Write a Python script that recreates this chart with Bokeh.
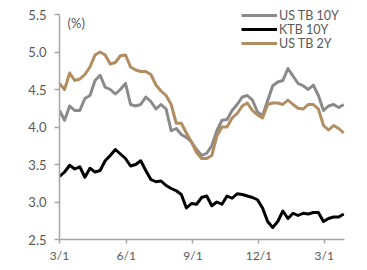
import pandas as pd
from bokeh.plotting import figure
from bokeh.models import FixedTicker, Legend, LegendItem, Label, Range1d, NumeralTickFormatter
from bokeh.embed import file_html
from bokeh.resources import INLINE

start = "2024-03-01"
dates = pd.date_range(start, periods=57, freq="7D")

us10y = [4.22, 4.09, 4.28, 4.22, 4.22, 4.38, 4.42, 4.62, 4.69, 4.53,
         4.50, 4.44, 4.50, 4.58, 4.30, 4.28, 4.30, 4.40, 4.34, 4.24,
         4.30, 4.24, 3.95, 3.98, 3.90, 3.86, 3.80, 3.70, 3.62, 3.65,
         3.75, 3.95, 4.09, 4.10, 4.22, 4.30, 4.40, 4.42, 4.36, 4.20,
         4.15, 4.35, 4.55, 4.60, 4.62, 4.78, 4.68, 4.58, 4.55, 4.50,
         4.56, 4.42, 4.22, 4.28, 4.30, 4.26, 4.30]
ktb10y = [3.34, 3.40, 3.49, 3.44, 3.47, 3.33, 3.45, 3.40, 3.42, 3.55,
          3.62, 3.70, 3.64, 3.58, 3.48, 3.50, 3.55, 3.42, 3.30, 3.27,
          3.28, 3.22, 3.18, 3.15, 3.10, 2.92, 2.98, 2.97, 3.06, 3.08,
          2.95, 3.00, 2.97, 3.08, 3.05, 3.11, 3.10, 3.08, 3.06, 3.03,
          2.92, 2.74, 2.66, 2.74, 2.88, 2.78, 2.85, 2.82, 2.85, 2.84,
          2.86, 2.86, 2.74, 2.78, 2.80, 2.80, 2.84]
us2y = [4.58, 4.50, 4.72, 4.62, 4.64, 4.70, 4.80, 4.96, 5.00, 4.96,
        4.84, 4.86, 4.95, 4.96, 4.80, 4.76, 4.74, 4.74, 4.70, 4.56,
        4.48, 4.42, 4.30, 4.05, 4.05, 3.92, 3.80, 3.66, 3.58, 3.58,
        3.62, 3.88, 4.00, 4.00, 4.12, 4.18, 4.28, 4.32, 4.22, 4.16,
        4.12, 4.30, 4.32, 4.32, 4.30, 4.36, 4.30, 4.25, 4.24, 4.30,
        4.30, 4.24, 4.02, 3.96, 4.02, 3.98, 3.92]

series_names = ["US TB 10Y", "KTB 10Y", "US TB 2Y"]
tick_dates = ["2024-03-01", "2024-06-01", "2024-09-01", "2024-12-01", "2025-03-01"]
tick_labels = ["3/1", "6/1", "9/1", "12/1", "3/1"]
y_ticks = [2.5, 3.0, 3.5, 4.0, 4.5, 5.0, 5.5]

t0 = pd.Timestamp(start)
xdays = [(d - t0).days for d in dates]
tick_days = [(pd.Timestamp(d) - t0).days for d in tick_dates]

p = figure(frame_width=285, frame_height=234, output_backend="svg", toolbar_location=None,
           x_range=Range1d(0, 393), y_range=Range1d(2.5, 5.62),
           min_border_left=59, min_border_right=12, min_border_top=5, min_border_bottom=10)
p.outline_line_color = None
p.xgrid.visible = False
p.ygrid.visible = False

colors = ["#8a8a8a", "#000000", "#b38d62"]
renderers = []
for vals, c in zip([us10y, ktb10y, us2y], colors):
    r = p.line(xdays, vals, line_color=c, line_width=3, line_join="round")
    renderers.append(r)

axis_col = "#a6a6a6"
lab_col = "#595959"
font = "Lato"
for ax in (p.xaxis[0], p.yaxis[0]):
    ax.axis_line_color = axis_col
    ax.axis_line_width = 1.5
    ax.major_tick_line_color = axis_col
    ax.major_tick_line_width = 1.5
    ax.major_tick_in = 0
    ax.minor_tick_line_color = None
    ax.major_label_text_color = lab_col
    ax.major_label_text_font = font

p.xaxis.ticker = FixedTicker(ticks=tick_days)
p.xaxis.major_label_overrides = {d: l for d, l in zip(tick_days, tick_labels)}
p.xaxis.major_tick_out = 4
p.xaxis.major_label_standoff = 4
p.xaxis.major_label_text_font_size = "12px"
p.yaxis.ticker = FixedTicker(ticks=y_ticks)
p.yaxis.formatter = NumeralTickFormatter(format="0.0")
p.yaxis.bounds = (2.5, 5.5)
p.yaxis.major_tick_out = 5
p.yaxis.major_label_standoff = 8
p.yaxis.major_label_text_font_size = "13px"

p.add_layout(Label(x=8, y=217, x_units="screen", y_units="screen", text="(%)",
                   text_font=font, text_font_size="13px", text_color=lab_col,
                   text_baseline="middle"))

legend_bottoms = [216, 202, 188]
for n, r, yb in zip(series_names, renderers, legend_bottoms):
    lg = Legend(items=[LegendItem(label=n, renderers=[r])],
                location=(182, yb), orientation="vertical",
                glyph_width=36, glyph_height=16, label_height=16, label_standoff=2,
                spacing=0, padding=0, margin=0,
                background_fill_alpha=0, border_line_alpha=0,
                label_text_font=font, label_text_font_size="12.5px", label_text_color=lab_col)
    p.add_layout(lg)

open("out.html", "w").write(file_html(p, INLINE))
